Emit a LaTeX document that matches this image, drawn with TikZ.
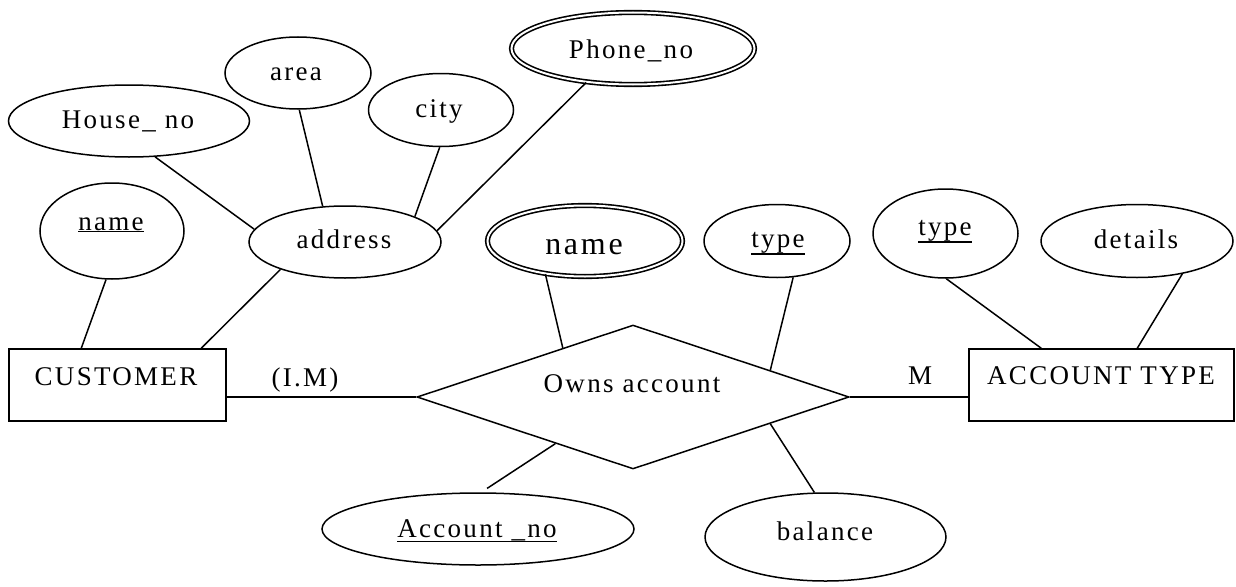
\documentclass[tikz,border=0pt]{standalone}
\usepackage{fontspec}
\setmainfont{Liberation Serif}[LetterSpace=8.5]
\usetikzlibrary{shapes.geometric}
\newcommand\uln[1]{\setbox0\hbox{#1}\rlap{\rule[\dimexpr-\dp0-2pt\relax]{\wd0}{1.6pt}}\box0}
\tikzset{
  ln/.style={line width=1.5pt},
  attr/.style={draw, ellipse, inner sep=0pt, line width=1.5pt},
  dattr/.style={draw, ellipse, inner sep=0pt, line width=1.6pt, double, double distance=2pt},
  ent/.style={draw, rectangle, inner sep=0pt, line width=1.5pt, minimum height=72pt},
  rel/.style={draw, diamond, inner sep=0pt, line width=1.5pt, minimum width=432pt, minimum height=144pt},
  lbl/.style={anchor=base, inner sep=0pt, font=\fontsize{27}{30}\selectfont},
}
\begin{document}
\begin{tikzpicture}[x=1pt,y=-1pt]
\useasboundingbox (0,0) rectangle (1236,586);
% attribute ellipses
\node[attr, minimum width=241pt, minimum height=72pt] (house) at (129,121) {};
\node[attr, minimum width=146pt, minimum height=72pt] (area) at (298,73) {};
\node[attr, minimum width=145pt, minimum height=73pt] (city) at (441,110) {};
\node[dattr, minimum width=243pt, minimum height=72pt] (phone) at (633,48.5) {};
\node[attr, minimum width=144pt, minimum height=96pt] (uname) at (112,231) {};
\node[attr, minimum width=192pt, minimum height=72pt] (addr) at (345,242) {};
\node[dattr, minimum width=195pt, minimum height=71pt] (dname) at (585,241) {};
\node[attr, minimum width=146pt, minimum height=73pt] (type1) at (777,241) {};
\node[attr, minimum width=145pt, minimum height=89pt] (type2) at (945.5,233.5) {};
\node[attr, minimum width=192pt, minimum height=73pt] (details) at (1137,241) {};
\node[attr, minimum width=312pt, minimum height=72pt] (accno) at (478,529) {};
\node[attr, minimum width=241pt, minimum height=88pt] (bal) at (825.5,537) {};
% entities and relationship
\node[ent, minimum width=217pt] (cust) at (117.5,385) {};
\node[ent, minimum width=265pt] (acct) at (1101.5,385) {};
\node[rel] (owns) at (633,397) {};
% texts
\node[lbl] (t1) at (128,128) {House\_ no};
\node[lbl] (t2) at (296,80) {area};
\node[lbl] (t3) at (439,117) {city};
\node[lbl] (t4) at (631,59) {Phone\_no};
\node[lbl] (t5) at (111,230) {\uln{name}};
\node[lbl] (t6) at (344,248) {address};
\node[lbl, font=\fontsize{32}{36}\selectfont] (t7) at (584,254) {name};
\node[lbl] (t8) at (778,247) {\uln{type}};
\node[lbl] (t9) at (945,235) {\uln{type}};
\node[lbl] (t10) at (1136,248) {details};
\node[lbl] (t11) at (116,385) {CUSTOMER};
\node[lbl] (t12) at (305,386) {(I.M)};
\node[lbl] (t13) at (632,392) {Owns account};
\node[lbl] (t14) at (477,537) {\uln{Account \_no}};
\node[lbl] (t15) at (825,540) {balance};
\node[lbl] (t16) at (920,384) {M};
\node[lbl] (t17) at (1101,384) {ACCOUNT TYPE};
% connectors
\draw[ln] (house.306) -- (addr.172.6);
\draw[ln] (area.272) -- (addr.122.6);
\draw[ln] (city.268) -- (addr.20.8);
\draw[ln] (phone.216) -- (addr.7);
\draw[ln] (uname.263) -- ([xshift=73pt]cust.north west);
\draw[ln] (addr.203) -- ([xshift=193pt]cust.north west);
\draw[ln] (owns.west -| cust.east) -- (owns.west);
\draw[ln] (owns.east) -- (owns.east -| acct.west);
\draw[ln] (dname.220) -- (owns.145);
\draw[ln] (type1.294) -- (owns.11.4);
\draw[ln] (type2.271) -- ([xshift=73pt]acct.north west);
\draw[ln] (details.324) -- ([xshift=169pt]acct.north west);
\draw[ln, shorten >=7pt] (owns.211.3) -- (accno.85.4);
\draw[ln] (owns.349.4) -- (bal.104);
\end{tikzpicture}
\end{document}
